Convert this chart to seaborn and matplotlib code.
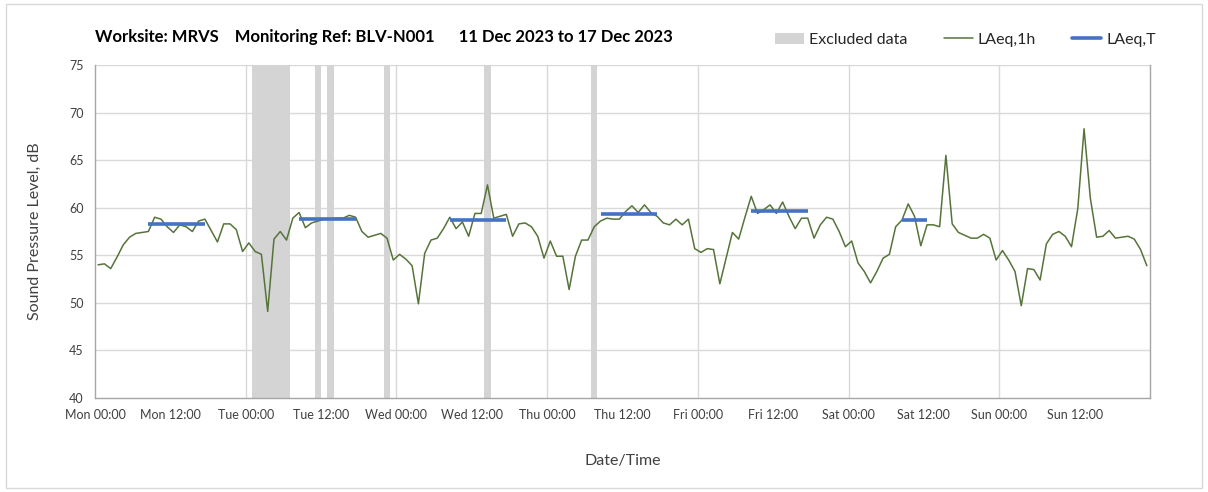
import numpy as np
import pandas as pd
import matplotlib
matplotlib.use("Agg")
import matplotlib.pyplot as plt
import matplotlib.patches as mpatches
from matplotlib.lines import Line2D
import seaborn as sns

# Hourly LAeq,1h values (hour index 0 = Mon 00:00-01:00)
laeq_1h = [
    54.0, 54.1, 53.6, 54.8, 56.1, 56.9, 57.3, 57.4, 57.5, 59.0, 58.8, 58.0,
    57.4, 58.2, 58.0, 57.5, 58.6, 58.8, 57.6, 56.4, 58.3, 58.3, 57.7, 55.4,
    56.3, 55.4, 55.1, 49.1, 56.7, 57.5, 56.6, 58.9, 59.5, 57.9, 58.4, 58.6,
    58.8, 58.8, 58.9, 58.9, 59.2, 59.0, 57.5, 56.9, 57.1, 57.3, 56.8, 54.5,
    55.1, 54.6, 53.9, 49.9, 55.2, 56.6, 56.8, 57.8, 59.0, 57.8, 58.5, 57.0,
    59.4, 59.4, 62.4, 58.9, 59.1, 59.3, 57.0, 58.3, 58.4, 58.0, 57.0, 54.7,
    56.5, 54.9, 54.9, 51.4, 54.9, 56.6, 56.6, 58.0, 58.6, 58.9, 58.8, 58.8,
    59.6, 60.2, 59.5, 60.3, 59.5, 59.1, 58.4, 58.2, 58.8, 58.2, 58.8, 55.7,
    55.3, 55.7, 55.6, 52.0, 54.7, 57.4, 56.7, 59.0, 61.2, 59.4, 59.8, 60.3,
    59.4, 60.6, 59.1, 57.8, 58.9, 58.9, 56.8, 58.2, 59.0, 58.8, 57.5, 55.9,
    56.5, 54.2, 53.3, 52.1, 53.3, 54.7, 55.1, 58.0, 58.7, 60.4, 59.1, 56.0,
    58.2, 58.2, 58.0, 65.5, 58.3, 57.4, 57.1, 56.8, 56.8, 57.2, 56.8, 54.5,
    55.5, 54.5, 53.3, 49.7, 53.6, 53.5, 52.4, 56.2, 57.2, 57.5, 57.0, 55.9,
    59.9, 68.3, 61.0, 56.9, 57.0, 57.6, 56.8, 56.9, 57.0, 56.7, 55.6, 53.9,
]

# LAeq,T periods: first hour index, last hour index, level
laeq_t_start = [8, 32, 56, 80, 104, 128]
laeq_t_end = [17, 41, 65, 89, 113, 132]
laeq_t_value = [58.3, 58.8, 58.7, 59.35, 59.65, 58.7]

# Excluded data periods (hours from Mon 00:00)
excl_start = [25, 35, 37, 46, 62, 79]
excl_end = [31, 36, 38, 47, 63, 80]

tick_hours = list(range(0, 169, 12))
tick_labels = ["Mon 00:00", "Mon 12:00", "Tue 00:00", "Tue 12:00", "Wed 00:00",
               "Wed 12:00", "Thu 00:00", "Thu 12:00", "Fri 00:00", "Fri 12:00",
               "Sat 00:00", "Sat 12:00", "Sun 00:00", "Sun 12:00", ""]

sns.set_style("white")
plt.rcParams['font.family'] = ['Lato', 'DejaVu Sans']

fig = plt.figure(figsize=(12.08, 4.92), dpi=100)
ax = fig.add_axes([95 / 1208, 1 - 398 / 492, (1150 - 95) / 1208, (398 - 65) / 492])

green = "#56743a"
blue = "#4472c4"
grey_band = "#d4d4d4"
grid_c = "#d9d9d9"

for s, e in zip(excl_start, excl_end):
    ax.axvspan(s, e, color=grey_band, lw=0, zorder=1)

df = pd.DataFrame({"hour": np.arange(len(laeq_1h)) + 0.5, "level": laeq_1h})
sns.lineplot(data=df, x="hour", y="level", ax=ax, color=green, lw=1.1, zorder=3)

for s, e, v in zip(laeq_t_start, laeq_t_end, laeq_t_value):
    ax.plot([s + 0.5, e + 0.5], [v, v], color=blue, lw=2.6, zorder=4,
            solid_capstyle="butt")

ax.set_xlim(0, 168)
ax.set_ylim(40, 75)
ax.set_yticks(range(40, 76, 5))
ax.set_xticks(tick_hours)
ax.set_xticklabels(tick_labels)
ax.grid(False)
for h in range(24, 168, 24):
    ax.axvline(h, color=grid_c, lw=1.0, zorder=0.5)
for y in range(45, 76, 5):
    ax.axhline(y, color=grid_c, lw=1.0, zorder=0.5)

for side in ["left", "bottom", "right"]:
    ax.spines[side].set_color("#a6a6a6")
    ax.spines[side].set_linewidth(1.0)
ax.spines["top"].set_visible(False)
ax.tick_params(axis="both", which="major", direction="out", length=4, width=1,
               color="#a6a6a6", labelsize=9, labelcolor="#404040", pad=4)

ax.set_xlabel("Date/Time", fontsize=11.5, color="#404040", labelpad=24)
ax.set_ylabel("Sound Pressure Level, dB", fontsize=11.5, color="#404040", labelpad=20)

fig.text(95 / 1208, 1 - 37 / 492,
         "Worksite: MRVS    Monitoring Ref: BLV-N001      11 Dec 2023 to 17 Dec 2023",
         fontsize=12, fontweight="bold", color="black", va="center", ha="left")

handles = [mpatches.Patch(color=grey_band, lw=0),
           Line2D([], [], color=green, lw=1.1),
           Line2D([], [], color=blue, lw=2.6)]
fig.legend(handles, ["Excluded data", "LAeq,1h", "LAeq,T"], ncol=3,
           loc="center right", bbox_to_anchor=(1170 / 1208, 1 - 40 / 492),
           frameon=False, fontsize=11.5, handlelength=1.8, handletextpad=0.3,
           columnspacing=2.3, labelcolor="#262626")

border = mpatches.Rectangle((6 / 1208, 4 / 492), 1 - 12 / 1208, 1 - 8 / 492,
                            transform=fig.transFigure, fill=False,
                            edgecolor="#d9d9d9", lw=1.0)
fig.patches.append(border)

fig.savefig("out.png", dpi=100)
